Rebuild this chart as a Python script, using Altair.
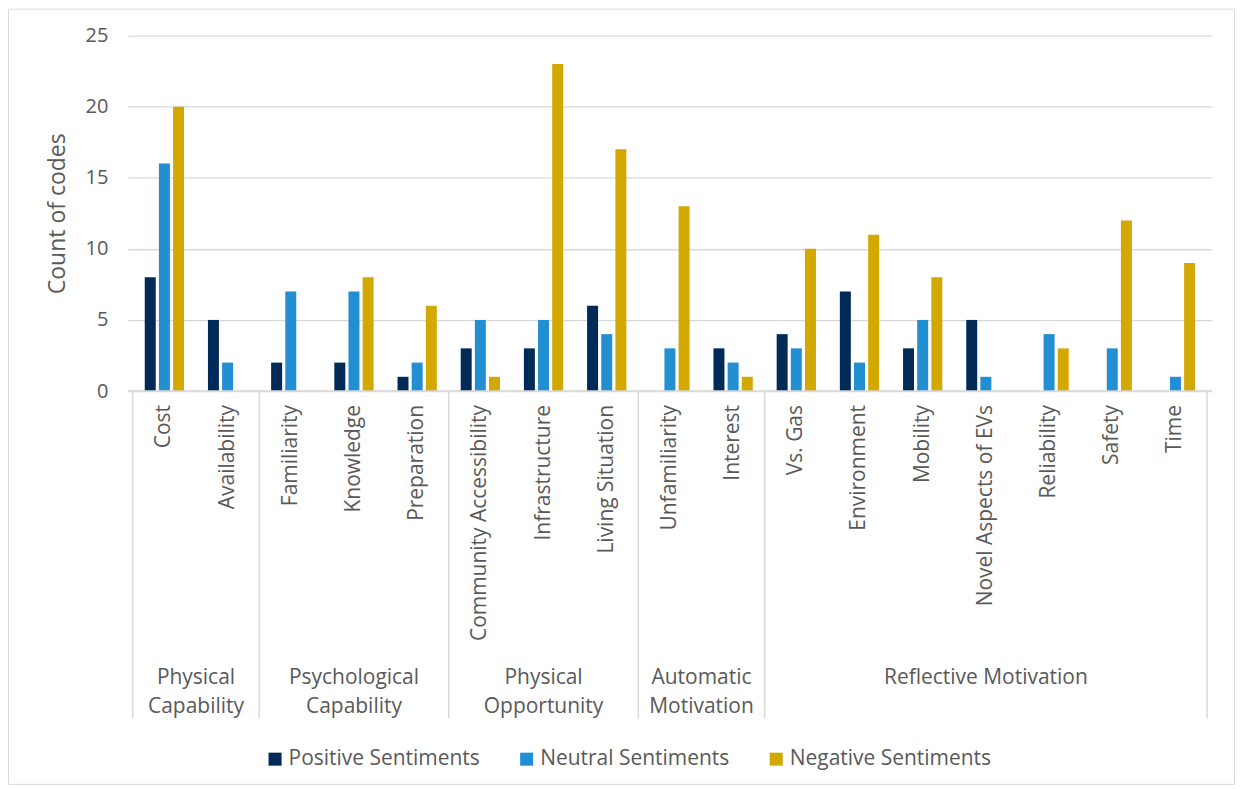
import altair as alt
import pandas as pd

categories = ["Cost", "Availability", "Familiarity", "Knowledge", "Preparation",
              "Community Accessibility", "Infrastructure", "Living Situation",
              "Unfamiliarity", "Interest", "Vs. Gas", "Environment", "Mobility",
              "Novel Aspects of EVs", "Reliability", "Safety", "Time"]
positive = [8, 5, 2, 2, 1, 3, 3, 6, 0, 3, 4, 7, 3, 5, 0, 0, 0]
neutral = [16, 2, 7, 7, 2, 5, 5, 4, 3, 2, 3, 2, 5, 1, 4, 3, 1]
negative = [20, 0, 0, 8, 6, 1, 23, 17, 13, 1, 10, 11, 8, 0, 3, 12, 9]
series = ["Positive Sentiments", "Neutral Sentiments", "Negative Sentiments"]
colors = ["#002B59", "#238FD3", "#D3A800"]

group_names = ["Physical\nCapability", "Psychological\nCapability", "Physical\nOpportunity",
               "Automatic\nMotivation", "Reflective Motivation"]
group_start = [0, 2, 5, 8, 10]
group_end = [2, 5, 8, 10, 17]

W, H = 1086, 356
TXT = "#595959"
GRID = "#d9d9d9"

rows = []
for i, c in enumerate(categories):
    for s, vals in enumerate([positive, neutral, negative]):
        rows.append({"cat": c, "idx": i, "sidx": s, "series": series[s], "value": vals[i]})
bars_df = pd.DataFrame(rows)
cat_df = pd.DataFrame({"cat": categories, "idx": list(range(len(categories)))})
grp_df = pd.DataFrame({"name": group_names, "start": group_start, "end": group_end})
sep_df = pd.DataFrame({"b": sorted(set(group_start + group_end))})

xscale = alt.Scale(domain=[0, len(categories)], nice=False, zero=False)

bars = alt.Chart(bars_df).transform_calculate(
    xpos="datum.idx + 0.5 + (datum.sidx - 1) * 0.224"
).mark_bar(size=11).encode(
    x=alt.X("xpos:Q", scale=xscale, axis=None),
    y=alt.Y("value:Q", scale=alt.Scale(domain=[0, 25], nice=False),
            axis=alt.Axis(values=[0, 5, 10, 15, 20, 25], grid=True, gridColor=GRID,
                          gridWidth=1.3, domain=False, ticks=False, labelFontSize=20,
                          labelColor=TXT, labelPadding=20, title="Count of codes",
                          titleFontSize=23, titleColor=TXT, titleFontWeight="normal",
                          titlePadding=16)),
    color=alt.Color("series:N", scale=alt.Scale(domain=series, range=colors),
                    legend=alt.Legend(orient="none", legendX=137, legendY=714,
                                      direction="horizontal", title=None,
                                      symbolType="square", symbolSize=170,
                                      symbolStrokeWidth=0, labelFontSize=21,
                                      labelColor=TXT, columnPadding=36,
                                      labelLimit=0, labelOffset=3)),
)

seps = alt.Chart(sep_df).mark_rule(color=GRID, strokeWidth=1.5).encode(
    x=alt.X("b:Q", scale=xscale, axis=None),
    y=alt.value(H), y2=alt.value(684),
)

baseline = alt.Chart(alt.Data(values=[{}])).mark_rule(color=GRID, strokeWidth=1.5).encode(
    x=alt.value(0), x2=alt.value(W), y=alt.value(H),
)

cat_labels = alt.Chart(cat_df).mark_text(
    angle=270, align="right", baseline="middle", fontSize=21, color=TXT
).encode(
    x=alt.X("idx2:Q", scale=xscale, axis=None),
    y=alt.value(370),
    text="cat:N",
).transform_calculate(idx2="datum.idx + 0.5")

grp_labels = alt.Chart(grp_df).transform_calculate(
    mid="(datum.start + datum.end) / 2"
).mark_text(
    align="center", baseline="top", fontSize=21, color=TXT, lineBreak="\n", lineHeight=29.5
).encode(
    x=alt.X("mid:Q", scale=xscale, axis=None),
    y=alt.value(632),
    text="name:N",
)

border = alt.Chart(alt.Data(values=[{}])).mark_rect(
    filled=False, stroke=GRID, strokeWidth=1
).encode(
    x=alt.value(-119.5), x2=alt.value(1108.5), y=alt.value(-26.5), y2=alt.value(750),
)

chart = alt.layer(border, bars, seps, baseline, cat_labels, grp_labels).properties(
    width=W, height=H,
    autosize=alt.AutoSizeParams(type="none"),
    padding={"left": 120, "top": 27, "right": 24, "bottom": 396},
).configure(font="Open Sans").configure_view(stroke=None)

chart.save("out.html", embed_options={"renderer": "svg", "actions": False})
